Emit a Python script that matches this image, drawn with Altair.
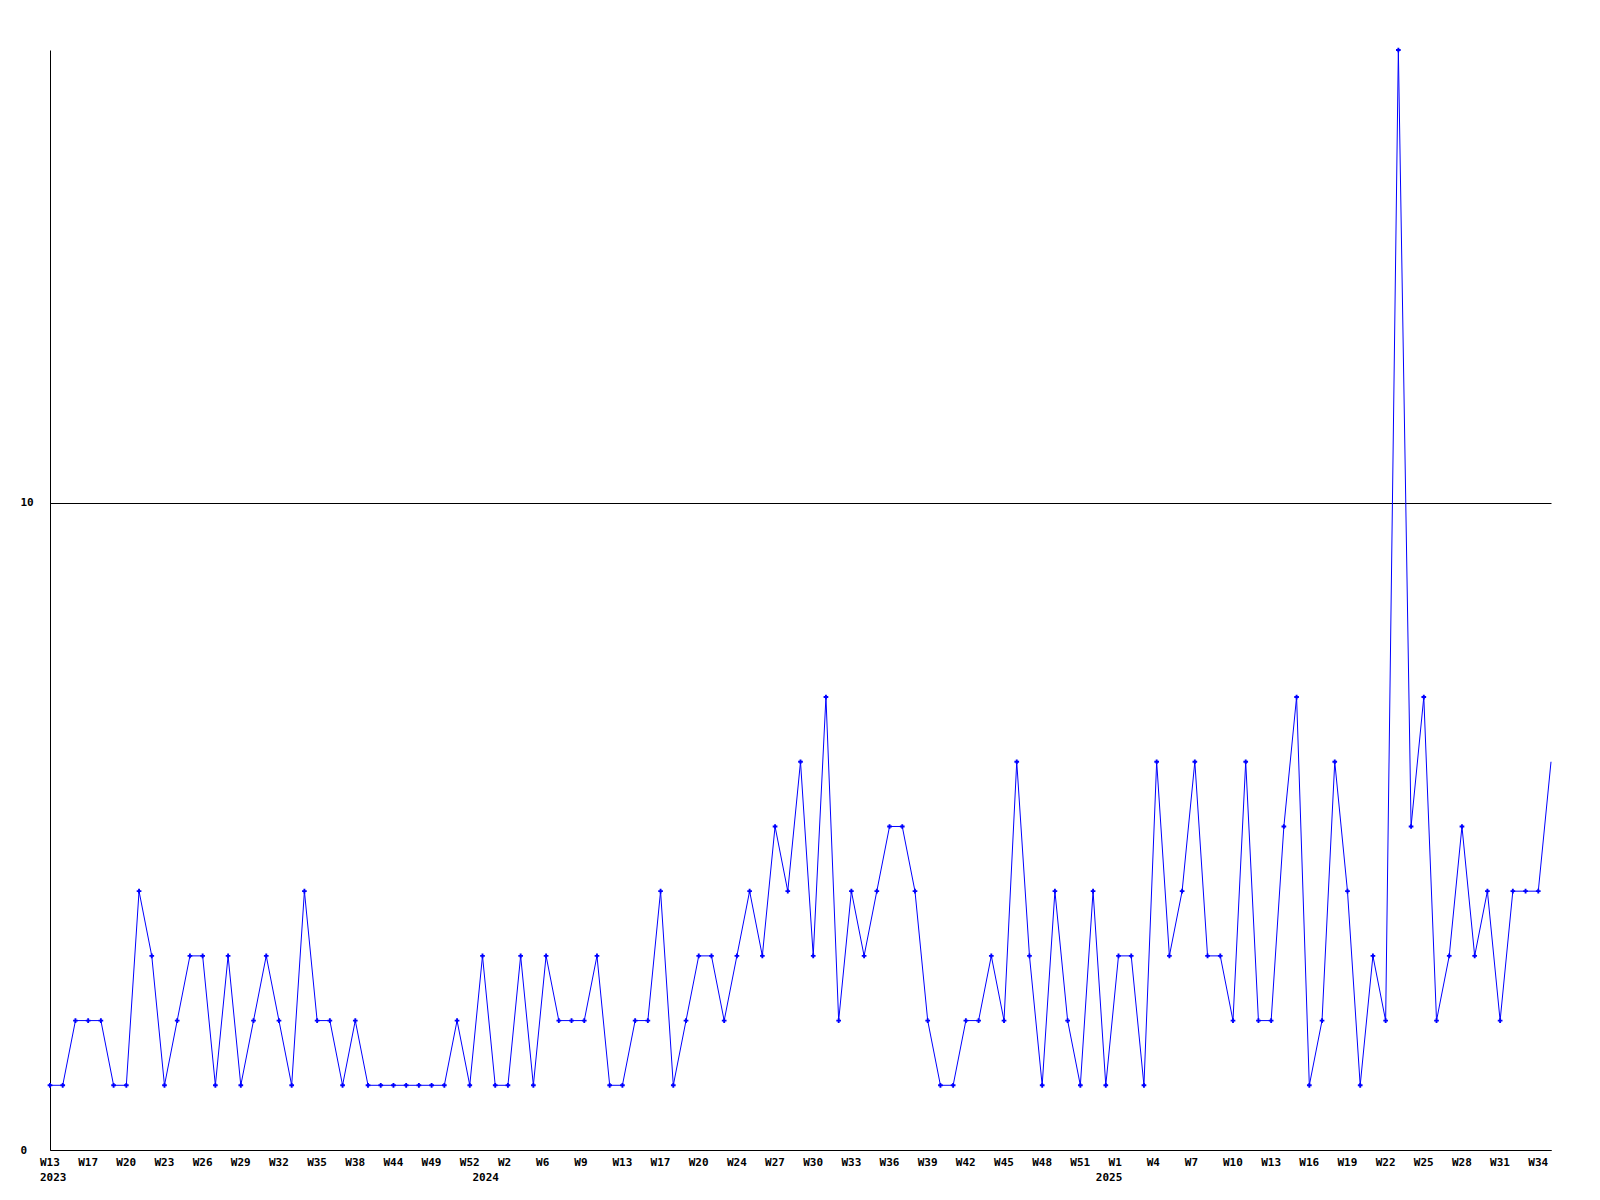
import altair as alt
import pandas as pd

years = (["2023"] * 34) + (["2024"] * 49) + (["2025"] * 36)

weeks = [
    # 2023
    "W13", "W15", "W16", "W17", "W18", "W19", "W20", "W21", "W22", "W23",
    "W24", "W25", "W26", "W27", "W28", "W29", "W30", "W31", "W32", "W33",
    "W34", "W35", "W36", "W37", "W38", "W40", "W42", "W44", "W45", "W47",
    "W49", "W50", "W51", "W52",
    # 2024
    "W0", "W1", "W2", "W4", "W5", "W6", "W7", "W8", "W9", "W11",
    "W12", "W13", "W15", "W16", "W17", "W18", "W19", "W20", "W22", "W23",
    "W24", "W25", "W26", "W27", "W28", "W29", "W30", "W31", "W32", "W33",
    "W34", "W35", "W36", "W37", "W38", "W39", "W40", "W41", "W42", "W43",
    "W44", "W45", "W46", "W47", "W48", "W49", "W50", "W51", "W52",
    # 2025
    "W0", "W1", "W2", "W3", "W4", "W5", "W6", "W7", "W8", "W9",
    "W10", "W11", "W12", "W13", "W14", "W15", "W16", "W17", "W18", "W19",
    "W20", "W21", "W22", "W23", "W24", "W25", "W26", "W27", "W28", "W29",
    "W30", "W31", "W32", "W33", "W34", "W35",
]

counts = [
    1, 1, 2, 2, 2, 1, 1, 4, 3, 1, 2, 3, 3, 1, 3, 1, 2, 3, 2,
    1, 4, 2, 2, 1, 2, 1, 1, 1, 1, 1, 1, 1, 2, 1, 3, 1, 1, 3, 1, 3,
    2, 2, 2, 3, 1, 1, 2, 2, 4, 1, 2, 3, 3, 2, 3, 4, 3, 5, 4, 6, 3,
    7, 2, 4, 3, 4, 5, 5, 4, 2, 1, 1, 2, 2, 3, 2, 6, 3, 1, 4, 2, 1,
    4, 1, 3, 3, 1, 6, 3, 4, 6, 3, 3, 2, 6, 2, 2, 5, 7, 1, 2, 6, 4, 1,
    3, 2, 17, 5, 7, 2, 3, 5, 3, 4, 2, 4, 4, 4, 6,
]

year_label_index = [0, 34, 83]

keys = [f"{y}-{w}" for y, w in zip(years, weeks)]
df = pd.DataFrame({"key": keys, "count": counts})
df_pts = df.iloc[:-1]  # the last (current) week carries no marker
df_ticks = pd.DataFrame({"key": keys[::3], "label": weeks[::3]})
df_years = pd.DataFrame({"key": [keys[i] for i in year_label_index],
                         "year": [years[i] for i in year_label_index]})

FONT = "DejaVu Sans Mono"
BLUE = "#0000ff"

x_enc = alt.X(
    "key:O", sort=keys, scale=alt.Scale(type="point", padding=0),
    axis=alt.Axis(
        title=None, labels=False, ticks=False, tickSize=0,
        domainColor="black", domainWidth=1, grid=False,
    ),
)
y_enc = alt.Y(
    "count:Q", scale=alt.Scale(domain=[0, 17], nice=False, zero=True),
    axis=alt.Axis(
        values=[0, 10], format="d", title=None, ticks=False, tickSize=0, grid=True,
        gridColor="black", gridOpacity=1, gridWidth=1, labelAlign="left",
        labelPadding=30, labelBaseline="middle", labelFont=FONT,
        labelFontWeight="bold", labelFontSize=11, labelColor="black",
        domainColor="black", domainWidth=1,
    ),
)

line = alt.Chart(df).mark_line(color=BLUE, strokeWidth=1).encode(x=x_enc, y=y_enc)
pts = alt.Chart(df_pts).mark_point(shape="cross", filled=True, size=22, color=BLUE, opacity=1).encode(
    x=alt.X("key:O", sort=keys), y="count:Q")
tick_text = alt.Chart(df_ticks).mark_text(
    align="left", baseline="top", dx=-10, font=FONT, fontWeight="bold",
    fontSize=11, color="black",
).encode(x=alt.X("key:O", sort=keys), y=alt.value(1107), text="label:N")
year_text = alt.Chart(df_years).mark_text(
    align="left", baseline="top", dx=-10, font=FONT, fontWeight="bold",
    fontSize=11, color="black",
).encode(x=alt.X("key:O", sort=keys), y=alt.value(1122), text="year:N")

chart = alt.layer(line, pts, tick_text, year_text).properties(
    width=1501, height=1100,
    autosize=alt.AutoSizeParams(type="none"),
    padding={"left": 42, "top": 42, "right": 41, "bottom": 40},
    background="white",
).configure_view(stroke=None)

chart.save("out.html", embed_options={"renderer": "svg", "actions": False})
